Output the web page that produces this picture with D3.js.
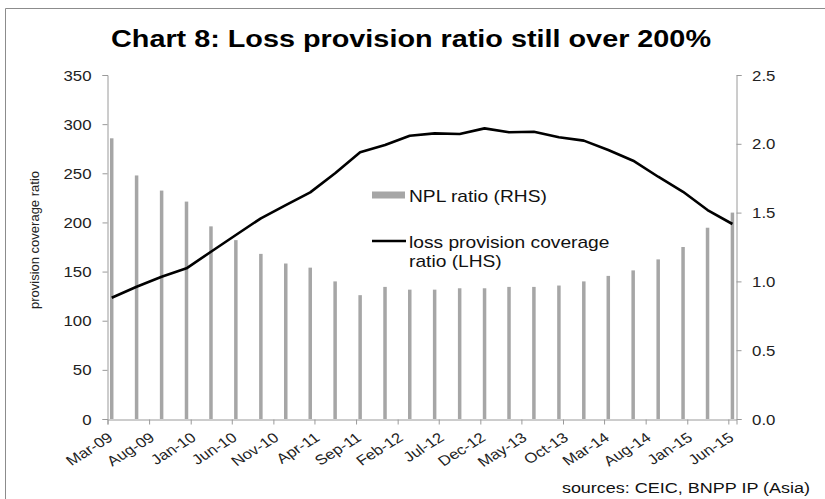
<!DOCTYPE html>
<html>
<head>
<meta charset="utf-8">
<script src="https://cdn.jsdelivr.net/npm/d3@7"></script>
<style>
  html, body { margin: 0; padding: 0; background: #fff; }
  svg { display: block; font-family: "Liberation Sans", Arial, sans-serif; }
</style>
</head>
<body>
<svg id="chart" width="825" height="499"></svg>
<script>
// ---- data ----
const quarters = ["Mar-09","Jun-09","Sep-09","Dec-09","Mar-10","Jun-10","Sep-10","Dec-10",
  "Mar-11","Jun-11","Sep-11","Dec-11","Mar-12","Jun-12","Sep-12","Dec-12",
  "Mar-13","Jun-13","Sep-13","Dec-13","Mar-14","Jun-14","Sep-14","Dec-14","Mar-15","Jun-15"];
const nplRatio = [2.04,1.77,1.66,1.58,1.40,1.30,1.20,1.13,1.10,1.00,0.90,0.96,0.94,
  0.94,0.95,0.95,0.96,0.96,0.97,1.00,1.04,1.08,1.16,1.25,1.39,1.50];
const coverage = [123.4,134.6,144.8,153.3,170.2,187.2,204.2,217.7,230.6,250.0,271.3,278.7,288.2,
  290.6,290.0,295.7,291.7,292.3,286.6,283.2,273.7,262.8,246.5,231.2,212.6,198.4];
const xTickLabels = ["Mar-09","Aug-09","Jan-10","Jun-10","Nov-10","Apr-11","Sep-11","Feb-12",
  "Jul-12","Dec-12","May-13","Oct-13","Mar-14","Aug-14","Jan-15","Jun-15"];
const leftTicks = [0,50,100,150,200,250,300,350];
const rightTicks = [0,0.5,1.0,1.5,2.0,2.5];
const titleText = "Chart 8: Loss provision ratio still over 200%";
const yTitle = "provision coverage ratio";
const legendBar = "NPL ratio (RHS)";
const legendLine = ["loss provision coverage", "ratio (LHS)"];
const sourceText = "sources: CEIC, BNPP IP (Asia)";

// ---- layout ----
const SX = 1.2; // horizontal stretch of the original picture
const svg = d3.select("#chart");
const parse = d3.timeParse("%b-%y");
const dates = quarters.map(parse);
const plotL = 107.5, plotR = 736.5, plotT = 75, plotB = 419;
const start = parse("Mar-09"), end = d3.timeMonth.offset(parse("Jun-15"), 1);
const x = d3.scaleTime().domain([start, end]).range([plotL, plotR]);
const yL = d3.scaleLinear().domain([0, 350]).range([plotB, plotT]);
const yR = d3.scaleLinear().domain([0, 2.5]).range([plotB, plotT]);
const xc = d => (x(d) + x(d3.timeMonth.offset(d, 1))) / 2;

// border
svg.append("path").attr("d", "M5.5,499V8.5H825").attr("fill", "none").attr("stroke", "#8c8c8c");

// title
svg.append("text").attr("transform", `translate(411,47) scale(${SX},1)`)
  .attr("text-anchor", "middle").attr("font-size", 24).attr("font-weight", "bold")
  .attr("fill", "#000").text(titleText);

// bars
const barW = 3.5;
svg.append("g").selectAll("rect").data(dates).join("rect")
  .attr("x", (d) => xc(d) - barW / 2)
  .attr("width", barW)
  .attr("y", (d, i) => yR(nplRatio[i]))
  .attr("height", (d, i) => plotB - yR(nplRatio[i]))
  .attr("fill", "#a6a6a6");

// line
const line = d3.line().x((d) => xc(d)).y((d, i) => yL(coverage[i]));
svg.append("path").datum(dates).attr("d", line)
  .attr("fill", "none").attr("stroke", "#000").attr("stroke-width", 2.6)
  .attr("stroke-linejoin", "round");

// axes
const axisColor = "#9a9a9a", textColor = "#222";
const gL = svg.append("g").attr("transform", `translate(${plotL},0)`)
  .call(d3.axisLeft(yL).tickValues(leftTicks).tickSize(5).tickPadding(8.3).tickFormat(d3.format("d")));
const gR = svg.append("g").attr("transform", `translate(${plotR},0)`)
  .call(d3.axisRight(yR).tickValues(rightTicks).tickSize(5).tickPadding(8).tickFormat(d3.format(".1f")));
const gB = svg.append("g").attr("transform", `translate(0,${plotB + 0.5})`)
  .call(d3.axisBottom(x).tickValues(xTickLabels.map(parse)).tickSize(5).tickFormat(d3.timeFormat("%b-%y")));

[gL, gR, gB].forEach(g => {
  g.select(".domain").attr("stroke", axisColor);
  g.selectAll(".tick line").attr("stroke", axisColor);
  g.selectAll("text").attr("fill", textColor).attr("font-size", 14)
    .attr("font-family", "'Liberation Sans', Arial, sans-serif");
});
gL.selectAll(".tick text").attr("transform", `scale(${SX},1)`).attr("dy", "0.36em");
gR.selectAll(".tick text").attr("transform", `scale(${SX},1)`).attr("dy", "0.36em");
gB.selectAll(".tick text").attr("x", 0).attr("y", 0).attr("dy", 0)
  .attr("text-anchor", "end")
  .attr("transform", `translate(6,20) scale(${SX},1) rotate(-37)`);

// y axis title
svg.append("text").attr("transform", `translate(38.5,240) rotate(-90)`)
  .attr("text-anchor", "middle").attr("font-size", 13).attr("fill", textColor).text(yTitle);

// legend
svg.append("rect").attr("x", 372).attr("y", 191.5).attr("width", 33).attr("height", 7).attr("fill", "#a6a6a6");
svg.append("text").attr("transform", `translate(409,202) scale(${SX},1)`)
  .attr("font-size", 16).attr("fill", "#111").text(legendBar);
svg.append("line").attr("x1", 372).attr("x2", 406).attr("y1", 241).attr("y2", 241)
  .attr("stroke", "#000").attr("stroke-width", 2.6);
legendLine.forEach((t, i) => {
  svg.append("text").attr("transform", `translate(409,${248 + i * 19}) scale(${SX},1)`)
    .attr("font-size", 16).attr("fill", "#111").text(t);
});

// source
svg.append("text").attr("transform", `translate(810,493) scale(${SX},1)`)
  .attr("text-anchor", "end").attr("font-size", 15).attr("fill", "#111").text(sourceText);
</script>
</body>
</html>
